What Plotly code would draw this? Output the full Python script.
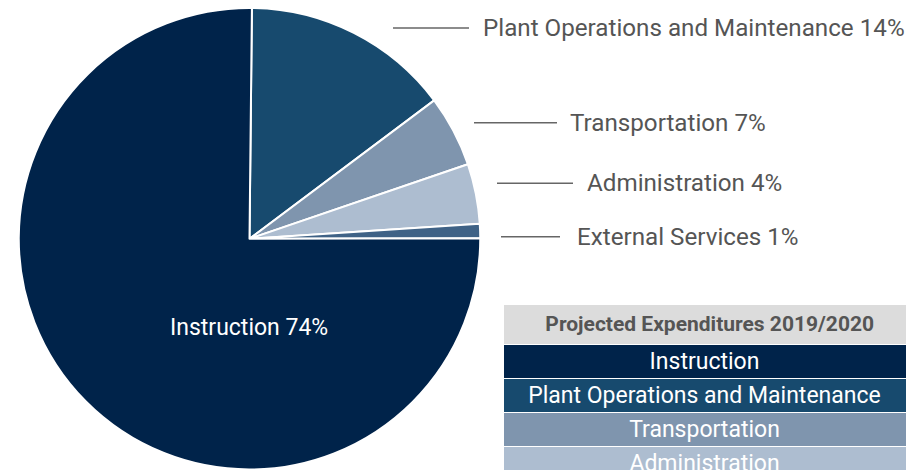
import plotly.graph_objects as go

# Data
categories = ["Plant Operations and Maintenance", "Transportation", "Administration",
              "External Services", "Instruction"]
slice_values = [14.6, 5.0, 4.2, 1.0, 75.2]          # slice sizes
label_percents = ["14%", "7%", "4%", "1%", "74%"]    # percentages printed on the labels
colors = ["#174A6E", "#7F95AE", "#ADBDD0", "#3F6286", "#00234A"]

table_header = ["Projected Expenditures 2019/2020", " "]
table_rows = ["Instruction", "Plant Operations and Maintenance", "Transportation", "Administration"]
table_second_col = [" ", " ", " ", " "]   # second column is cut off at the window edge
table_colors = ["#00234A", "#174A6E", "#7F95AE", "#ADBDD0"]

OFF = 8  # page body margin: the figure is drawn starting 8px from the window's corner
W, H = 914 - OFF, 470 - OFF
FONT = "Roboto"
GRAY = "#555555"


def px(x):
    return (x - OFF) / W


def py(y):
    return 1 - (y - OFF) / H


fig = go.Figure()

fig.add_trace(go.Pie(
    labels=categories,
    values=slice_values,
    sort=False,
    direction="clockwise",
    rotation=0.6,
    marker=dict(colors=colors, line=dict(color="white", width=2)),
    textinfo="none",
    hoverinfo="label+percent",
    showlegend=False,
    domain=dict(x=[px(18.75), px(480.25)], y=[py(469.5), 1.0]),
))

fig.add_trace(go.Table(
    domain=dict(x=[px(503), 1.0], y=[0.0, py(304)]),
    columnwidth=[403, 8],
    header=dict(
        values=["&nbsp;&nbsp;<b>" + table_header[0] + "</b>", table_header[1]],
        fill_color="#DCDCDC",
        line=dict(color="white", width=1),
        font=dict(family=FONT, size=21, color=GRAY),
        align="center",
        height=37,
    ),
    cells=dict(
        values=[table_rows, table_second_col],
        fill_color=[table_colors, table_colors],
        line=dict(color="white", width=1),
        font=dict(family=FONT, size=23, color="white"),
        align="center",
        height=34,
    ),
))

# Outside labels with leader lines (screen pixel positions)
label_pos = [  # (line x0, line x1, text x, y)
    (393, 469, 480.5, 28),
    (474, 557, 568, 122.7),
    (497, 573, 585, 183.3),
    (501, 560, 574.5, 236.7),
]
shapes = []
annotations = []
for i, (lx0, lx1, tx, yy) in enumerate(label_pos):
    shapes.append(dict(type="line", xref="paper", yref="paper",
                       x0=px(lx0), x1=px(lx1), y0=py(yy), y1=py(yy),
                       line=dict(color="#666666", width=1.5)))
    annotations.append(dict(xref="paper", yref="paper", x=px(tx), y=py(yy),
                            xanchor="left", yanchor="middle", showarrow=False,
                            text=f"{categories[i]} {label_percents[i]}",
                            font=dict(family=FONT, size=24.2, color=GRAY)))

annotations.append(dict(xref="paper", yref="paper", x=px(249.5), y=py(327.5),
                        xanchor="center", yanchor="middle", showarrow=False,
                        text=f"{categories[4]} {label_percents[4]}",
                        font=dict(family=FONT, size=23, color="white")))

fig.update_layout(
    width=W, height=H,
    margin=dict(l=0, r=0, t=0, b=0),
    paper_bgcolor="white",
    plot_bgcolor="white",
    shapes=shapes,
    annotations=annotations,
    font=dict(family=FONT),
)

fig.write_html("out.html")
